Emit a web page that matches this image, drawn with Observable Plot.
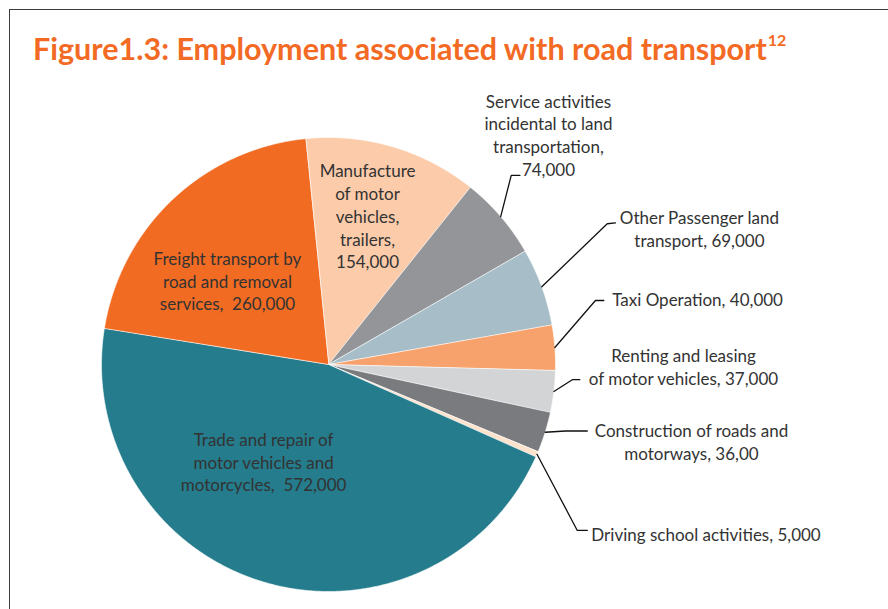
<!DOCTYPE html>
<html>
<head>
<meta charset="utf-8">
<script src="https://cdn.jsdelivr.net/npm/d3@7"></script>
<script src="https://cdn.jsdelivr.net/npm/@observablehq/plot@0.6"></script>
<style>
html, body { margin: 0; padding: 0; background: #fff; overflow: hidden; }
#wrap { position: relative; width: 888px; height: 609px; overflow: hidden; }
#chart svg { display: block; background: transparent; }
#frame { position: absolute; left: 9px; top: 9px; width: 900px; height: 620px;
  border-top: 1.5px solid #3c3c3c; border-left: 1.5px solid #3c3c3c; pointer-events: none; }
#title { position: absolute; left: 33px; top: 30px; font-family: Lato, sans-serif; font-weight: 700;
  font-size: 30.5px; line-height: 36px; color: #f26a24; white-space: nowrap; }
#title sup { font-size: 16px; position: relative; top: -3px; vertical-align: super; line-height: 0; margin-left: 1px; }
</style>
</head>
<body>
<div id="wrap">
  <div id="chart"></div>
  <div id="frame"></div>
  <div id="title">Figure1.3: Employment associated with road transport<sup>12</sup></div>
</div>
<script>
// ---- data ----
const categories = [
  "Manufacture of motor vehicles, trailers",
  "Service activities incidental to land transportation",
  "Other Passenger land transport",
  "Taxi Operation",
  "Renting and leasing of motor vehicles",
  "Construction of roads and motorways",
  "Driving school activities",
  "Trade and repair of motor vehicles and motorcycles",
  "Freight transport by road and removal services"
];
const employment = [154000, 74000, 69000, 40000, 37000, 36000, 5000, 572000, 260000];
const labelText = [
  "Manufacture\nof motor\nvehicles,\ntrailers,\n154,000",
  "Service activities\nincidental to land\ntransportation,\n74,000",
  "Other Passenger land\ntransport, 69,000",
  "Taxi Operation, 40,000",
  "Renting and leasing\nof motor vehicles, 37,000",
  "Construction of roads and\nmotorways, 36,00",
  "Driving school activities, 5,000",
  "Trade and repair of\nmotor vehicles and\nmotorcycles,\u00a0 572,000",
  "Freight transport by\nroad and removal\nservices,\u00a0 260,000"
];
const sliceColors = ["#fbcbaa", "#939598", "#a7bdc8", "#f7a26c", "#d3d4d6", "#7a7b7e", "#fde2cc", "#247c8c", "#f26b22"];

// ---- layout (in units of the pie radius, relative to the pie centre) ----
const W = 888, H = 609, CX = 328, CY = 364, R = 227;
const startDeg = -5.8;
// inner labels: text [x, y]; outer labels: text [x, y], elbow [x, y], end [x, y], anchor
const labelLayout = [
  {text: [0.172, 0.656]},
  {text: [0.969, 1.013], elbow: [0.805, 0.833], end: [0.843, 0.833]},
  {text: [1.634, 0.601], elbow: [1.228, 0.620], end: [1.264, 0.624]},
  {text: [1.626, 0.291], elbow: [1.176, 0.282], end: [1.213, 0.282]},
  {text: [1.564, -0.007], elbow: [1.074, -0.067], end: [1.107, -0.067]},
  {text: [1.599, -0.337], elbow: [1.044, -0.293], end: [1.140, -0.293]},
  {text: [1.158, -0.744], elbow: [1.096, -0.731], end: [1.140, -0.731], anchor: "start"},
  {text: [-0.286, -0.427]},
  {text: [-0.445, 0.370]}
];

// ---- geometry derived from data ----
const a0 = startDeg * Math.PI / 180;
const arcs = d3.pie().sort(null).value(d => d).startAngle(a0).endAngle(a0 + 2 * Math.PI)(employment);
const slicePts = [];
arcs.forEach((a, i) => {
  slicePts.push({cat: categories[i], x: 0, y: 0});
  const n = Math.max(2, Math.ceil((a.endAngle - a.startAngle) / 0.005));
  for (let k = 0; k <= n; k++) {
    const t = a.startAngle + (a.endAngle - a.startAngle) * k / n;
    slicePts.push({cat: categories[i], x: Math.sin(t), y: Math.cos(t)});
  }
});
const leaderPts = [];
arcs.forEach((a, i) => {
  const L = labelLayout[i];
  if (!L.elbow) return;
  const m = (a.startAngle + a.endAngle) / 2;
  leaderPts.push({cat: categories[i], x: Math.sin(m), y: Math.cos(m)});
  leaderPts.push({cat: categories[i], x: L.elbow[0], y: L.elbow[1]});
  leaderPts.push({cat: categories[i], x: L.end[0], y: L.end[1]});
});
const labels = categories.map((c, i) => ({cat: c, label: labelText[i], x: labelLayout[i].text[0], y: labelLayout[i].text[1], anchor: labelLayout[i].anchor || "middle"}));

const textOpts = {fontFamily: "Lato, sans-serif", fontSize: 17, lineHeight: 1.335, fill: "#333333", lineAnchor: "middle"};

const plot = Plot.plot({
  width: W, height: H,
  marginTop: 0, marginRight: 0, marginBottom: 0, marginLeft: 0,
  x: {domain: [-CX / R, (W - CX) / R], axis: null},
  y: {domain: [(CY - H) / R, CY / R], axis: null},
  color: {domain: categories, range: sliceColors},
  style: {background: "transparent"},
  marks: [
    Plot.line(slicePts, {x: "x", y: "y", z: "cat", fill: "cat", stroke: "white", strokeWidth: 0.6, curve: "linear-closed"}),
    Plot.line(leaderPts, {x: "x", y: "y", z: "cat", stroke: "#111", strokeWidth: 1.3}),
    Plot.text(labels.filter(d => d.anchor === "middle"), {x: "x", y: "y", text: "label", textAnchor: "middle", ...textOpts}),
    Plot.text(labels.filter(d => d.anchor === "start"), {x: "x", y: "y", text: "label", textAnchor: "start", ...textOpts})
  ]
});
document.getElementById("chart").appendChild(plot);
</script>
</body>
</html>
